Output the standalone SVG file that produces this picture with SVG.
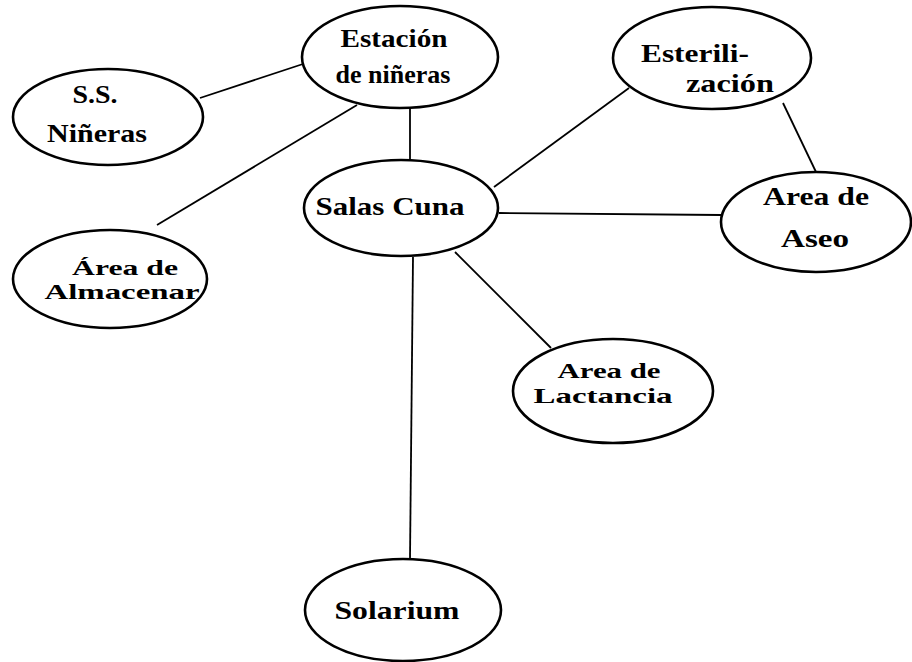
<svg xmlns="http://www.w3.org/2000/svg" width="912" height="662" viewBox="0 0 912 662">
<style>
.n ellipse{fill:#fff;stroke:#000;stroke-width:2.6}
.c line{stroke:#000;stroke-width:1.8;fill:none}
text{font-family:"Liberation Serif","DejaVu Serif",serif;font-size:25px;fill:#000;text-anchor:middle;font-weight:bold}
text.s{font-size:21px}
</style>
<rect width="912" height="662" fill="#fff"/>
<g id="connectors" class="c">
<line x1="200" y1="98" x2="303" y2="64"/>
<line x1="357" y1="105" x2="157" y2="225"/>
<line x1="410" y1="108" x2="410" y2="160"/>
<line x1="413" y1="257" x2="410" y2="559"/>
<line x1="494" y1="187" x2="629" y2="88"/>
<line x1="499" y1="213" x2="721" y2="215"/>
<line x1="783" y1="103" x2="816" y2="172"/>
<line x1="455" y1="252" x2="551" y2="348"/>
</g>
<g id="estacion" class="n"><ellipse cx="400" cy="57" rx="98" ry="51"/>
<text x="394" y="47" textLength="107" lengthAdjust="spacingAndGlyphs">Estación</text>
<text x="393" y="83" textLength="115" lengthAdjust="spacingAndGlyphs">de niñeras</text></g>
<g id="ssninera" class="n"><ellipse cx="108" cy="117" rx="95" ry="48"/>
<text x="95" y="103" textLength="45" lengthAdjust="spacingAndGlyphs">S.S.</text>
<text x="97" y="142" textLength="100" lengthAdjust="spacingAndGlyphs">Niñeras</text></g>
<g id="almacenar" class="n"><ellipse cx="110" cy="279" rx="97" ry="49"/>
<text class="s" x="125" y="275" textLength="106" lengthAdjust="spacingAndGlyphs">Área de</text>
<text class="s" x="122" y="299" textLength="155" lengthAdjust="spacingAndGlyphs">Almacenar</text></g>
<g id="salas" class="n"><ellipse cx="401" cy="208" rx="97" ry="48"/>
<text x="390" y="215" textLength="149" lengthAdjust="spacingAndGlyphs">Salas Cuna</text></g>
<g id="esterilizacion" class="n"><ellipse cx="712" cy="58" rx="99" ry="51"/>
<text x="695" y="62" textLength="108" lengthAdjust="spacingAndGlyphs">Esterili-</text>
<text x="730" y="92" textLength="88" lengthAdjust="spacingAndGlyphs">zación</text></g>
<g id="aseo" class="n"><ellipse cx="816" cy="222" rx="95" ry="50"/>
<text x="816" y="205" textLength="106" lengthAdjust="spacingAndGlyphs">Area de</text>
<text x="815" y="247" textLength="68" lengthAdjust="spacingAndGlyphs">Aseo</text></g>
<g id="lactancia" class="n"><ellipse cx="613" cy="391" rx="100" ry="52"/>
<text class="s" x="609" y="378" textLength="103" lengthAdjust="spacingAndGlyphs">Area de</text>
<text class="s" x="603" y="403" textLength="139" lengthAdjust="spacingAndGlyphs">Lactancia</text></g>
<g id="solarium" class="n"><ellipse cx="403" cy="610" rx="98" ry="51"/>
<text x="397" y="619" textLength="125" lengthAdjust="spacingAndGlyphs">Solarium</text></g>
</svg>
